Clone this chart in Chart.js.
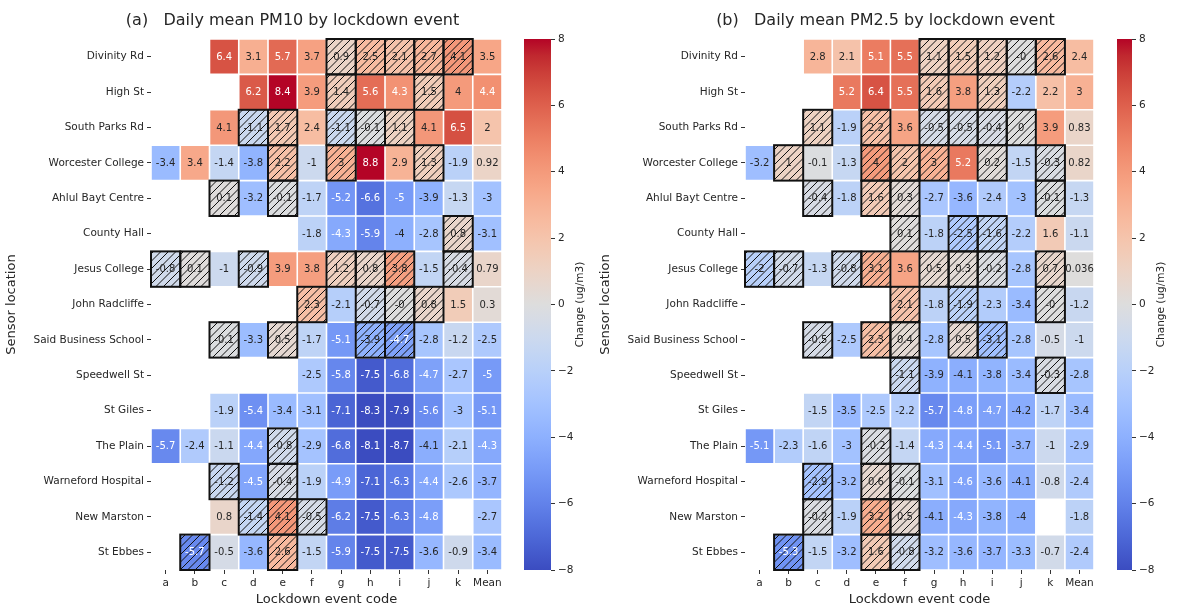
<!DOCTYPE html>
<html>
<head>
<meta charset="utf-8">
<script src="https://cdn.jsdelivr.net/npm/chart.js@4.4.1/dist/chart.umd.min.js"></script>
<style>
  body { margin: 0; background: #fff; }
  #wrap { position: relative; width: 1183px; height: 607px; overflow: hidden; }
  canvas { position: absolute; top: 0; }
</style>
</head>
<body>
<div id="wrap">
  <canvas id="heatA" width="512" height="607" style="left:0"></canvas>
  <canvas id="barA" width="90" height="607" style="left:512px"></canvas>
  <canvas id="heatB" width="510" height="607" style="left:594px"></canvas>
  <canvas id="barB" width="79" height="607" style="left:1104px"></canvas>
</div>
<script>
const sensors = ['Divinity Rd', 'High St', 'South Parks Rd', 'Worcester College', 'Ahlul Bayt Centre',
    'County Hall', 'Jesus College', 'John Radcliffe', 'Said Business School', 'Speedwell St',
    'St Giles', 'The Plain', 'Warneford Hospital', 'New Marston', 'St Ebbes'];
const eventCodes = ['a', 'b', 'c', 'd', 'e', 'f', 'g', 'h', 'i', 'j', 'k', 'Mean'];
const colorbarRange = [-8, 8];

// change in daily mean PM10 (ug/m3), rows follow sensors, columns follow eventCodes
const pm10 = [
    [null, null, 6.4, 3.1, 5.7, 3.7, 0.9, 2.5, 2.1, 2.7, 4.1, 3.5],
    [null, null, null, 6.2, 8.4, 3.9, 1.4, 5.6, 4.3, 1.5, 4, 4.4],
    [null, null, 4.1, -1.1, 1.7, 2.4, -1.1, -0.1, 1.1, 4.1, 6.5, 2],
    [-3.4, 3.4, -1.4, -3.8, 2.2, -1, 3, 8.8, 2.9, 1.3, -1.9, 0.92],
    [null, null, 0.1, -3.2, -0.1, -1.7, -5.2, -6.6, -5, -3.9, -1.3, -3],
    [null, null, null, null, null, -1.8, -4.3, -5.9, -4, -2.8, 0.8, -3.1],
    [-0.8, 0.1, -1, -0.9, 3.9, 3.8, 1.2, 0.8, 3.8, -1.5, -0.4, 0.79],
    [null, null, null, null, null, 2.3, -2.1, -0.7, -0, 0.8, 1.5, 0.3],
    [null, null, -0.1, -3.3, 0.5, -1.7, -5.1, -3.9, -4.7, -2.8, -1.2, -2.5],
    [null, null, null, null, null, -2.5, -5.8, -7.5, -6.8, -4.7, -2.7, -5],
    [null, null, -1.9, -5.4, -3.4, -3.1, -7.1, -8.3, -7.9, -5.6, -3, -5.1],
    [-5.7, -2.4, -1.1, -4.4, -0.8, -2.9, -6.8, -8.1, -8.7, -4.1, -2.1, -4.3],
    [null, null, -1.2, -4.5, -0.4, -1.9, -4.9, -7.1, -6.3, -4.4, -2.6, -3.7],
    [null, null, 0.8, -1.4, 4.1, -0.5, -6.2, -7.5, -6.3, -4.8, null, -2.7],
    [null, -5.7, -0.5, -3.6, 2.6, -1.5, -5.9, -7.5, -7.5, -3.6, -0.9, -3.4]
];
// hatched (not significant) cells, event codes per sensor
const pm10Hatch = ['ghijk', 'gj', 'deghi', 'egj', 'ce', 'k', 'abdghik', 'fhij', 'cehi', '', '', 'e', 'ce', 'def', 'be'];

const pm25 = [
    [null, null, 2.8, 2.1, 5.1, 5.5, 1.1, 1.5, 1.2, -0, 2.6, 2.4],
    [null, null, null, 5.2, 6.4, 5.5, 1.6, 3.8, 1.3, -2.2, 2.2, 3],
    [null, null, 1.1, -1.9, 2.2, 3.6, -0.5, -0.5, -0.4, 0, 3.9, 0.83],
    [-3.2, 1, -0.1, -1.3, 4, 2, 3, 5.2, 0.2, -1.5, -0.3, 0.82],
    [null, null, -0.4, -1.8, 1.6, 0.3, -2.7, -3.6, -2.4, -3, -0.1, -1.3],
    [null, null, null, null, null, 0.1, -1.8, -2.5, -1.6, -2.2, 1.6, -1.1],
    [-2, -0.7, -1.3, -0.8, 3.1, 3.6, 0.5, 0.3, -0.2, -2.8, 0.7, 0.036],
    [null, null, null, null, null, 2.1, -1.8, -1.9, -2.3, -3.4, -0, -1.2],
    [null, null, -0.5, -2.5, 2.3, 0.4, -2.8, 0.5, -3.1, -2.8, -0.5, -1],
    [null, null, null, null, null, -1.1, -3.9, -4.1, -3.8, -3.4, -0.3, -2.8],
    [null, null, -1.5, -3.5, -2.5, -2.2, -5.7, -4.8, -4.7, -4.2, -1.7, -3.4],
    [-5.1, -2.3, -1.6, -3, -0.2, -1.4, -4.3, -4.4, -5.1, -3.7, -1, -2.9],
    [null, null, -2.9, -3.2, 0.6, -0.1, -3.1, -4.6, -3.6, -4.1, -0.8, -2.4],
    [null, null, -0.2, -1.9, 3.2, 0.5, -4.1, -4.3, -3.8, -4, null, -1.8],
    [null, -5.3, -1.5, -3.2, 1.6, -0.8, -3.2, -3.6, -3.7, -3.3, -0.7, -2.4]
];
const pm25Hatch = ['ghijk', 'gi', 'ceghij', 'befgik', 'cefk', 'fhi', 'abdeghik', 'fhk', 'cefhi', 'fk', '', 'e', 'cef', 'cef', 'bef'];

const FONT = '"DejaVu Sans", sans-serif';
const TEXT = '#262626';

// coolwarm colour table
const coolwarm = [
    [59, 76, 192], [68, 90, 204], [77, 104, 215], [87, 117, 225], [98, 130, 234], [108, 142, 241],
    [119, 154, 247], [130, 165, 251], [141, 176, 254], [152, 185, 255], [163, 194, 255], [174, 201, 253],
    [184, 208, 249], [194, 213, 244], [204, 217, 238], [213, 219, 230], [221, 221, 221], [229, 216, 209],
    [236, 211, 197], [241, 204, 184], [245, 196, 172], [247, 187, 160], [247, 177, 148], [247, 166, 135],
    [244, 154, 123], [241, 141, 111], [236, 127, 99], [229, 112, 88], [222, 96, 77], [213, 80, 66],
    [203, 62, 56], [192, 40, 47], [180, 4, 38]
];

function cmapRgb(v) {
    const [lo, hi] = colorbarRange;
    let t = (v - lo) / (hi - lo);
    t = Math.max(0, Math.min(1, t)) * (coolwarm.length - 1);
    const i = Math.min(Math.floor(t), coolwarm.length - 2);
    const f = t - i;
    return coolwarm[i].map((c, k) => Math.round(c + (coolwarm[i + 1][k] - c) * f));
}

function cmap(v) {
    const [r, g, b] = cmapRgb(v);
    return `rgb(${r},${g},${b})`;
}

function textColourFor(v) {
    const lin = cmapRgb(v).map(c => {
        c /= 255;
        return c <= 0.03928 ? c / 12.92 : Math.pow((c + 0.055) / 1.055, 2.4);
    });
    const lum = 0.2126 * lin[0] + 0.7152 * lin[1] + 0.0722 * lin[2];
    return lum > 0.408 ? TEXT : '#ffffff';
}

function formatValue(v) {
    return Object.is(v, -0) ? '-0' : String(v);
}

const cellPlugin = {
    id: 'cells',
    afterDatasetsDraw(chart) {
        const ctx = chart.ctx;
        const cells = [];
        chart.data.datasets.forEach((ds, r) => {
            const meta = chart.getDatasetMeta(r);
            ds.cellValues.forEach((v, c) => {
                if (v === null) return;
                const el = meta.data[c];
                const { x, y, base, width } = el.getProps(['x', 'y', 'base', 'width'], true);
                cells.push({
                    v,
                    hatched: ds.hatched.includes(eventCodes[c]),
                    left: x - width / 2,
                    right: x + width / 2,
                    top: Math.min(y, base),
                    bottom: Math.max(y, base),
                    cx: x,
                    cy: (y + base) / 2
                });
            });
        });

        ctx.save();
        // hatching
        cells.filter(c => c.hatched).forEach(c => {
            ctx.save();
            ctx.beginPath();
            ctx.rect(c.left, c.top, c.right - c.left, c.bottom - c.top);
            ctx.clip();
            ctx.strokeStyle = '#111';
            ctx.lineWidth = 1;
            const step = 7.5;
            const k0 = Math.floor((c.left + c.top) / step);
            const k1 = Math.ceil((c.right + c.bottom) / step);
            ctx.beginPath();
            for (let k = k0; k <= k1; k++) {
                const s = k * step;
                ctx.moveTo(s - c.bottom, c.bottom);
                ctx.lineTo(s - c.top, c.top);
            }
            ctx.stroke();
            ctx.restore();
        });

        // annotations
        ctx.font = `10px ${FONT}`;
        ctx.textAlign = 'center';
        ctx.textBaseline = 'middle';
        cells.forEach(c => {
            ctx.fillStyle = textColourFor(c.v);
            ctx.fillText(formatValue(c.v), c.cx, c.cy + 0.5);
        });

        // outlines
        ctx.strokeStyle = '#111';
        ctx.lineWidth = 2;
        cells.filter(c => c.hatched).forEach(c => {
            ctx.strokeRect(c.left, c.top, c.right - c.left, c.bottom - c.top);
        });
        ctx.restore();
    },
    afterDraw(chart, args, opts) {
        const ctx = chart.ctx;
        const area = chart.chartArea;
        ctx.save();
        ctx.font = `16px ${FONT}`;
        ctx.fillStyle = TEXT;
        ctx.textAlign = 'center';
        ctx.textBaseline = 'middle';
        ctx.fillText(opts.title, (area.left + area.right) / 2 - 34, 21);
        ctx.restore();
    }
};

function makeHeatmap(canvasId, values, hatch, title) {
    const datasets = values.map((row, r) => ({
        data: row.map(v => (v === null ? null : [r, r + 1])),
        backgroundColor: row.map(v => (v === null ? 'rgba(0,0,0,0)' : cmap(v))),
        borderColor: '#ffffff',
        borderWidth: 0.8,
        borderSkipped: false,
        barPercentage: 1,
        categoryPercentage: 1,
        inflateAmount: 0,
        cellValues: row,
        hatched: hatch[r]
    }));

    new Chart(document.getElementById(canvasId), {
        type: 'bar',
        data: { labels: eventCodes, datasets },
        plugins: [cellPlugin],
        options: {
            responsive: false,
            animation: false,
            layout: { padding: { top: 39, right: 10, bottom: 0, left: 0 } },
            plugins: {
                legend: { display: false },
                tooltip: { enabled: false },
                cells: { title }
            },
            scales: {
                x: {
                    type: 'category',
                    stacked: true,
                    grid: { offset: false, drawOnChartArea: false, tickLength: 4, tickColor: '#333', tickWidth: 1 },
                    border: { display: false },
                    ticks: { color: TEXT, font: { family: FONT, size: 10.5 }, padding: 3, maxRotation: 0, autoSkip: false },
                    title: { display: true, text: 'Lockdown event code', color: TEXT, font: { family: FONT, size: 13 }, padding: { top: 0, bottom: 0 } },
                    afterFit(scale) { scale.height = 37; }
                },
                y: {
                    type: 'linear',
                    min: 0,
                    max: sensors.length,
                    reverse: true,
                    stacked: false,
                    afterBuildTicks(scale) {
                        scale.ticks = sensors.map((_, i) => ({ value: i + 0.5 }));
                    },
                    grid: { drawOnChartArea: false, tickLength: 4, tickColor: '#333', tickWidth: 1 },
                    border: { display: false },
                    ticks: {
                        color: TEXT,
                        font: { family: FONT, size: 10.5 },
                        padding: 3,
                        autoSkip: false,
                        callback: v => sensors[Math.floor(v)]
                    },
                    title: { display: true, text: 'Sensor location', color: TEXT, font: { family: FONT, size: 13 }, padding: { top: 4, bottom: 0 } },
                    afterFit(scale) { scale.width = 151; }
                }
            }
        }
    });
}

const colorbarLabel = {
    id: 'cbLabel',
    afterDraw(chart) {
        const ctx = chart.ctx;
        const area = chart.chartArea;
        ctx.save();
        ctx.translate(area.right + 29, (area.top + area.bottom) / 2);
        ctx.rotate(-Math.PI / 2);
        ctx.font = `10.5px ${FONT}`;
        ctx.fillStyle = TEXT;
        ctx.textAlign = 'center';
        ctx.textBaseline = 'middle';
        ctx.fillText('Change (ug/m3)', 0, 0);
        ctx.restore();
    }
};

function makeColorbar(canvasId, padLeft) {
    new Chart(document.getElementById(canvasId), {
        type: 'bar',
        data: {
            labels: [''],
            datasets: [{
                data: [colorbarRange],
                barPercentage: 1,
                categoryPercentage: 1,
                borderWidth: 0,
                inflateAmount: 0,
                backgroundColor(c) {
                    const chart = c.chart;
                    if (!chart.chartArea) return null;
                    const ys = chart.scales.y;
                    const g = chart.ctx.createLinearGradient(0, ys.getPixelForValue(colorbarRange[0]), 0, ys.getPixelForValue(colorbarRange[1]));
                    coolwarm.forEach((rgb, i) => g.addColorStop(i / (coolwarm.length - 1), `rgb(${rgb.join(',')})`));
                    return g;
                }
            }]
        },
        plugins: [colorbarLabel],
        options: {
            responsive: false,
            animation: false,
            layout: { padding: { top: 39, bottom: 37, left: padLeft, right: 0 } },
            plugins: { legend: { display: false }, tooltip: { enabled: false } },
            scales: {
                x: { display: false },
                y: {
                    position: 'right',
                    min: colorbarRange[0],
                    max: colorbarRange[1],
                    grid: { drawOnChartArea: false, tickLength: 4, tickColor: '#333', tickWidth: 1 },
                    border: { display: false },
                    ticks: {
                        stepSize: 2,
                        padding: 3,
                        color: TEXT,
                        font: { family: FONT, size: 10.5 },
                        callback: v => String(v).replace('-', '\u2212')
                    },
                    afterFit(scale) { scale.width = 51; }
                }
            }
        }
    });
}

makeHeatmap('heatA', pm10, pm10Hatch, '(a)   Daily mean PM10 by lockdown event');
makeHeatmap('heatB', pm25, pm25Hatch, '(b)   Daily mean PM2.5 by lockdown event');
makeColorbar('barA', 12);
makeColorbar('barB', 13);
</script>
</body>
</html>
